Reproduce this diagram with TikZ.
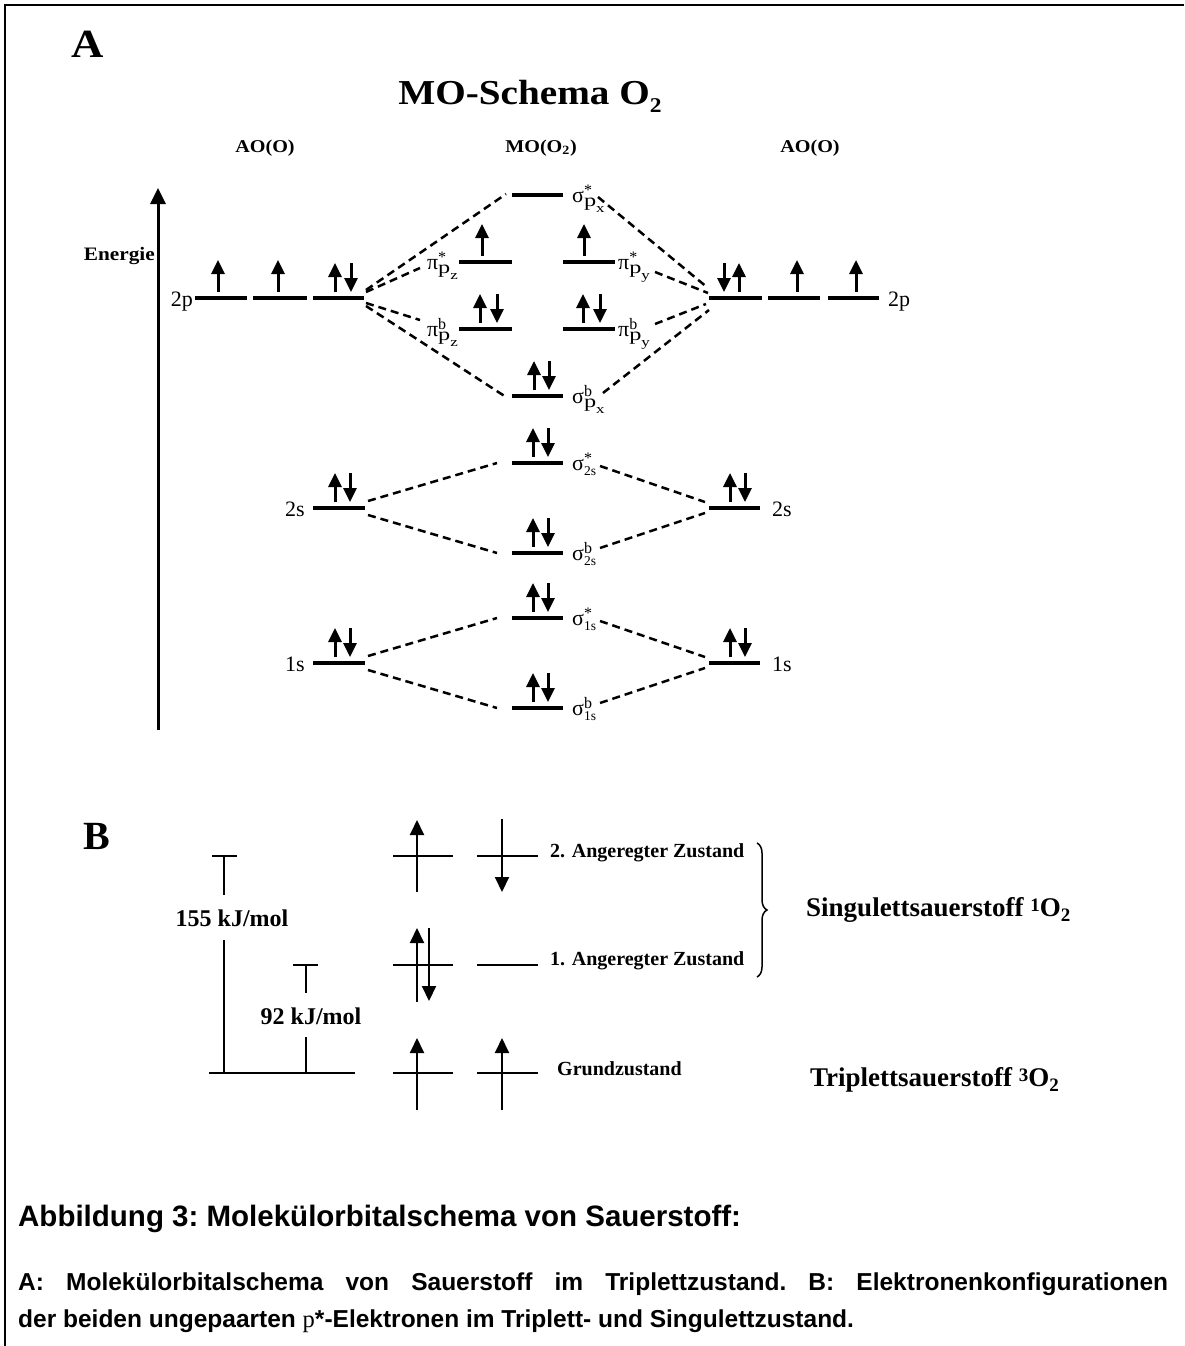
\documentclass[tikz,border=0pt]{standalone}
\usepackage{graphicx}
\usepackage{fontspec}
\setmainfont{Liberation Serif}
\newfontfamily\capfont{Liberation Sans}
\usetikzlibrary{arrows.meta,decorations.pathreplacing}
\newcommand\sx[1]{\scalebox{1.12}[1]{#1}}
\newcommand\porb[3]{#1\rlap{\raisebox{7pt}{\fontsize{16}{16}\selectfont #2}}\raisebox{-4pt}{\scalebox{1.35}[1]{\fontsize{18}{18}\selectfont p}\raisebox{-6pt}{\scalebox{1.3}[1]{\fontsize{13}{13}\selectfont #3}}}}
\newcommand\sorb[2]{σ\rlap{\raisebox{7pt}{\fontsize{16}{16}\selectfont #1}}\raisebox{-5pt}{\fontsize{13.5}{14}\selectfont #2}}
\begin{document}
\begin{tikzpicture}[x=1pt,y=-1pt,
  lvl/.style={line width=4pt},
  con/.style={line width=2.5pt,dash pattern=on 8pt off 5pt},
  el/.style={line width=3pt,-{Triangle[width=13pt,length=14pt]}},
  bl/.style={line width=2pt},
  bel/.style={line width=2pt,-{Triangle[width=14pt,length=15pt]}},
  lab/.style={inner sep=0pt,font=\fontsize{22}{26}\selectfont},
  orbl/.style={inner sep=0pt,font=\fontsize{22}{26}\selectfont},
  hd/.style={inner sep=0pt,font=\fontsize{18}{22}\selectfont\bfseries},
  btx/.style={inner sep=0pt,font=\fontsize{20}{24}\selectfont\bfseries},
  captxt/.style={inner sep=0pt,anchor=base west}
]
\useasboundingbox (0,0) rectangle (1184,1346);
\fill[white] (0,0) rectangle (1184,1346);
\draw[line width=2pt] (5,1346) -- (5,5) -- (1184,5);

% headings
\node[inner sep=0pt,anchor=base,font=\fontsize{40}{44}\selectfont\bfseries] (hA) at (88,58) {\sx{A}};
\node[inner sep=0pt,anchor=base,font=\fontsize{35}{40}\selectfont\bfseries] (title) at (530,104) {\sx{MO-Schema O\raisebox{-8pt}{\fontsize{21}{21}\selectfont 2}}};
\node[hd,anchor=base] (aoL) at (265,152) {\sx{AO(O)}};
\node[hd,anchor=base] (moM) at (541,152) {\sx{MO(O\textsubscript{2})}};
\node[hd,anchor=base] (aoR) at (810,152) {\sx{AO(O)}};

% energy axis
\coordinate (eb) at (158,730);
\coordinate (et) at (158,188);
\draw[line width=3pt,-{Triangle[width=15pt,length=16pt]}] (eb) -- (et);
\node[inner sep=0pt,anchor=base east,font=\fontsize{19}{24}\selectfont\bfseries] (energie) at (155,260) {\sx{Energie}};

% macro helpers
\newcommand\lev[4]{\coordinate (#1-l) at (#2,#4);\coordinate (#1-r) at (#3,#4);\draw[lvl] (#1-l) -- (#1-r);}
\newcommand\up[2]{\draw[el] (#1,{#2-6}) -- (#1,{#2-38});}
\newcommand\pu[2]{\draw[el] (#1,{#2-6}) -- (#1,{#2-35});}
\newcommand\pd[2]{\draw[el] (#1,{#2-35}) -- (#1,{#2-6});}

% AO 2p left
\lev{pa}{195}{247}{298}\lev{pb}{253}{307}{298}\lev{pc}{313}{364}{298}
\up{218}{298}\up{278}{298}\pu{335}{298}\pd{351}{298}
\node[lab,anchor=base east] (p2L) at (193,306) {2p};
% AO 2p right
\lev{pd}{709}{762}{298}\lev{pe}{768}{820}{298}\lev{pf}{828}{879}{298}
\pd{724}{298}\pu{739}{298}\up{797}{298}\up{856}{298}
\node[lab,anchor=base west] (p2R) at (888,306) {2p};

% MO p levels
\lev{sxs}{512}{563}{195}
\lev{pzs}{459}{512}{262}\lev{pys}{563}{615}{262}
\lev{pzb}{459}{512}{329}\lev{pyb}{563}{615}{329}
\lev{sxb}{512}{563}{396}
\up{482}{262}\up{584}{262}
\pu{480}{329}\pd{497}{329}\pu{583}{329}\pd{600}{329}
\pu{534}{396}\pd{549}{396}
\node[orbl,anchor=base west] (lsxs) at (572,202) {\porb{σ}{*}{x}};
\node[orbl,anchor=base east] (lpzs) at (458,269) {\porb{π}{*}{z}};
\node[orbl,anchor=base west] (lpys) at (618,269) {\porb{π}{*}{y}};
\node[orbl,anchor=base east] (lpzb) at (458,336) {\porb{π}{b}{z}};
\node[orbl,anchor=base west] (lpyb) at (618,336) {\porb{π}{b}{y}};
\node[orbl,anchor=base west] (lsxb) at (572,403) {\porb{σ}{b}{x}};

% 2s / 1s
\lev{s2L}{313}{365}{508}\lev{s2R}{709}{760}{508}
\lev{s2s}{512}{563}{463}\lev{s2b}{512}{563}{553}
\lev{s1L}{313}{365}{663}\lev{s1R}{709}{760}{663}
\lev{s1s}{512}{563}{618}\lev{s1b}{512}{563}{708}
\pu{335}{508}\pd{350}{508}\pu{730}{508}\pd{745}{508}
\pu{533}{463}\pd{548}{463}\pu{533}{553}\pd{548}{553}
\pu{335}{663}\pd{350}{663}\pu{730}{663}\pd{745}{663}
\pu{533}{618}\pd{548}{618}\pu{533}{708}\pd{548}{708}
\node[lab,anchor=base east] (l2sL) at (305,516) {2s};
\node[lab,anchor=base west] (l2sR) at (772,516) {2s};
\node[lab,anchor=base east] (l1sL) at (305,671) {1s};
\node[lab,anchor=base west] (l1sR) at (772,671) {1s};
\node[orbl,anchor=base west] (ls2s) at (572,470) {\sorb{*}{2s}};
\node[orbl,anchor=base west] (ls2b) at (572,560) {\sorb{b}{2s}};
\node[orbl,anchor=base west] (ls1s) at (572,625) {\sorb{*}{1s}};
\node[orbl,anchor=base west] (ls1b) at (572,715) {\sorb{b}{1s}};

% dashed correlation lines
\coordinate (a1) at (366,290); \coordinate (b1) at (506,194);
\coordinate (a2) at (366,292); \coordinate (b2) at (420,268);
\coordinate (a3) at (366,303); \coordinate (b3) at (420,320);
\coordinate (a4) at (366,306); \coordinate (b4) at (506,397);
\coordinate (a5) at (598,197); \coordinate (b5) at (708,288);
\coordinate (a6) at (655,272); \coordinate (b6) at (708,293);
\coordinate (a7) at (655,324); \coordinate (b7) at (706,304);
\coordinate (a8) at (603,393); \coordinate (b8) at (709,310);
\foreach \i in {1,...,8} {\draw[con] (a\i) -- (b\i);}
\coordinate (c1) at (368,501); \coordinate (d1) at (497,463);
\coordinate (c2) at (368,515); \coordinate (d2) at (497,553);
\coordinate (c3) at (600,466); \coordinate (d3) at (705,502);
\coordinate (c4) at (600,548); \coordinate (d4) at (705,513);
\coordinate (c5) at (368,656); \coordinate (d5) at (497,618);
\coordinate (c6) at (368,670); \coordinate (d6) at (497,708);
\coordinate (c7) at (600,621); \coordinate (d7) at (705,657);
\coordinate (c8) at (600,703); \coordinate (d8) at (705,668);
\foreach \i in {1,...,8} {\draw[con] (c\i) -- (d\i);}

% ---------------- part B
\node[inner sep=0pt,anchor=base,font=\fontsize{40}{44}\selectfont\bfseries] (hB) at (97,849) {B};
\node[inner sep=0pt,font=\fontsize{24}{28}\selectfont\bfseries] (e155) at (232,918) {155 kJ/mol};
\node[inner sep=0pt,font=\fontsize{24}{28}\selectfont\bfseries] (e92) at (311,1016) {92 kJ/mol};
\coordinate (g0) at (209,1073); \coordinate (g1) at (355,1073);
\draw[bl] (g0) -- (g1);
\draw[bl] (212,856) -- (237,856);
\draw[bl] (224,856) -- (224,895);
\draw[bl] (224,940) -- (224,1073);
\draw[bl] (293,965) -- (318,965);
\draw[bl] (306,965) -- (306,993);
\draw[bl] (306,1037) -- (306,1073);

\draw[bl] (393,856) -- (453,856); \draw[bl] (477,856) -- (538,856);
\draw[bl] (393,965) -- (453,965); \draw[bl] (477,965) -- (538,965);
\draw[bl] (393,1073) -- (453,1073); \draw[bl] (477,1073) -- (538,1073);
\draw[bel] (417,892) -- (417,820);
\draw[bel] (502,819) -- (502,892);
\draw[bel] (417,1002) -- (417,928);
\draw[bel] (429,928) -- (429,1001);
\draw[bel] (417,1110) -- (417,1038);
\draw[bel] (502,1110) -- (502,1038);

\node[btx,anchor=west] (z2) at (550,853) {2. Angeregter Zustand};
\node[btx,anchor=west] (z1) at (550,961) {1. Angeregter Zustand};
\node[btx,anchor=west] (z0) at (557,1069) {Grundzustand};
\draw[line width=1.5pt,decorate,decoration={brace,amplitude=10pt}] (757,843) -- (757,977);
\node[inner sep=0pt,anchor=west,font=\fontsize{27}{32}\selectfont\bfseries] (sing) at (806,910) {Singulettsauerstoff \raisebox{5pt}{\fontsize{19}{20}\selectfont 1}O\raisebox{-5pt}{\fontsize{19}{20}\selectfont 2}};
\node[inner sep=0pt,anchor=west,font=\fontsize{27}{32}\selectfont\bfseries] (trip) at (810,1080) {Triplettsauerstoff \raisebox{5pt}{\fontsize{19}{20}\selectfont 3}O\raisebox{-5pt}{\fontsize{19}{20}\selectfont 2}};

% caption
\node[captxt,font=\capfont\bfseries\fontsize{29.5}{34}\selectfont\frenchspacing] (cap1) at (18,1226) {Abbildung 3: Molekülorbitalschema von Sauerstoff:};
\node[captxt,font=\capfont\bfseries\fontsize{24.5}{29}\selectfont\frenchspacing] (cap2) at (18,1290) {\makebox[1150pt][s]{A: Molekülorbitalschema von Sauerstoff im Triplettzustand. B: Elektronenkonfigurationen}};
\node[captxt,font=\capfont\bfseries\fontsize{24.5}{29}\selectfont\frenchspacing] (cap3) at (18,1327) {der beiden ungepaarten {\rmfamily\mdseries p}*-Elektronen im Triplett- und Singulettzustand.};
\end{tikzpicture}
\end{document}
